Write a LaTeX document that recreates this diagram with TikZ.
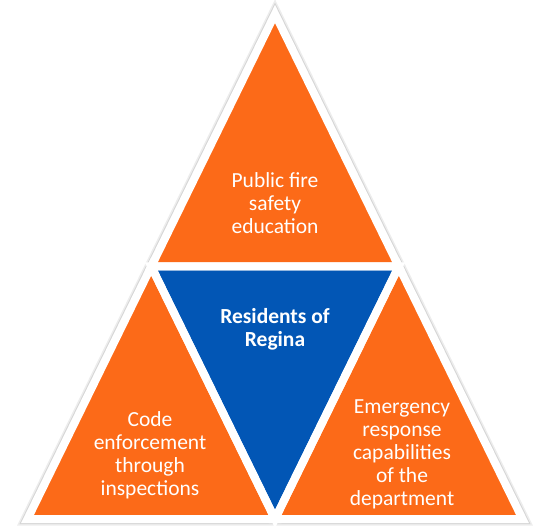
\documentclass[tikz,border=0pt]{standalone}
\usepackage{fontspec}
\setmainfont{Carlito}
\definecolor{fireorange}{RGB}{252,106,24}
\definecolor{reginablue}{RGB}{2,86,181}
\begin{document}
\begin{tikzpicture}[x=1pt,y=1pt,
  tri/.style={line width=8pt,line join=miter,draw=white},
  shade1/.style={draw=black,opacity=0.07,line width=13pt,line join=miter},
  shade2/.style={draw=black,opacity=0.10,line width=10pt,line join=miter},
  lbl/.style={text=white,align=center,font=\fontsize{21.5}{23}\selectfont}]
\useasboundingbox (0,0) rectangle (535,525);
\coordinate (A) at (275,511);
\coordinate (B) at (27.5,6);
\coordinate (C) at (522.5,6);
\coordinate (L) at (151.25,258.5);
\coordinate (R) at (398.75,258.5);
\coordinate (D) at (275,6);
% shadows
\begin{scope}[shift={(1.5,-2.5)}]
\draw[shade1] (A) -- (B) -- (C) -- cycle;
\draw[shade2] (A) -- (B) -- (C) -- cycle;
\end{scope}
% fills
\fill[fireorange] (A) -- (L) -- (R) -- cycle;
\fill[fireorange] (L) -- (B) -- (D) -- cycle;
\fill[fireorange] (R) -- (D) -- (C) -- cycle;
\fill[reginablue] (L) -- (R) -- (D) -- cycle;
% white borders
\draw[tri] (A) -- (L) -- (R) -- cycle;
\draw[tri] (L) -- (B) -- (D) -- cycle;
\draw[tri] (R) -- (D) -- (C) -- cycle;
\draw[tri] (L) -- (R) -- (D) -- cycle;
% labels
\node[lbl] (top) at (275,322) {Public fire\\safety\\education};
\node[lbl,font=\bfseries\fontsize{21.5}{23}\selectfont] (mid) at (275,196) {Residents of\\Regina};
\node[lbl] (left) at (150,70) {Code\\enforcement\\through\\inspections};
\node[lbl] (right) at (402,71) {Emergency\\response\\capabilities\\of the\\department};
\end{tikzpicture}
\end{document}
